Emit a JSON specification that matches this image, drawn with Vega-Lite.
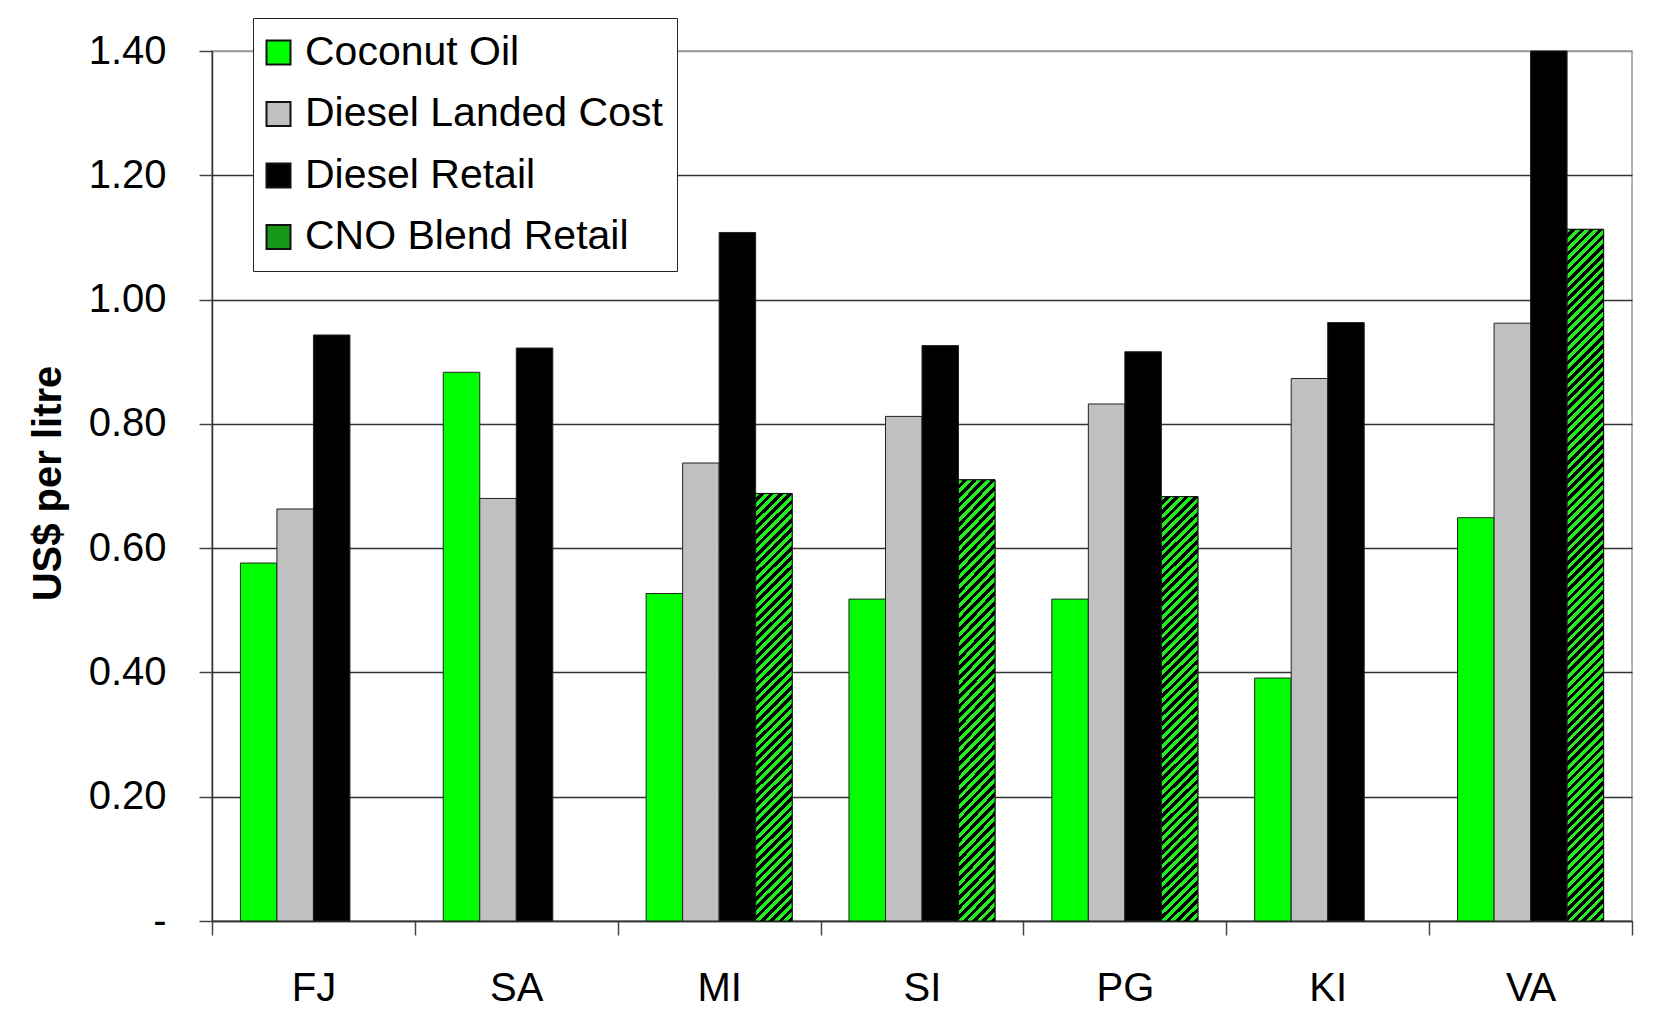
{
 "$schema": "https://vega.github.io/schema/vega-lite/v6.json",
 "width": 1420,
 "height": 870,
 "autosize": {"type": "none"},
 "padding": {"left": 212, "top": 51, "right": 25, "bottom": 107},
 "background": "white",
 "config": {
  "font": "Liberation Sans",
  "view": {"stroke": "#999", "strokeWidth": 1.5}
 },
 "data": {"values": [
  {"country": "FJ", "series": "Coconut Oil", "value": 0.576},
  {"country": "FJ", "series": "Diesel Landed Cost", "value": 0.663},
  {"country": "FJ", "series": "Diesel Retail", "value": 0.943},
  {"country": "SA", "series": "Coconut Oil", "value": 0.883},
  {"country": "SA", "series": "Diesel Landed Cost", "value": 0.680},
  {"country": "SA", "series": "Diesel Retail", "value": 0.922},
  {"country": "MI", "series": "Coconut Oil", "value": 0.527},
  {"country": "MI", "series": "Diesel Landed Cost", "value": 0.737},
  {"country": "MI", "series": "Diesel Retail", "value": 1.108},
  {"country": "MI", "series": "CNO Blend Retail", "value": 0.688},
  {"country": "SI", "series": "Coconut Oil", "value": 0.518},
  {"country": "SI", "series": "Diesel Landed Cost", "value": 0.812},
  {"country": "SI", "series": "Diesel Retail", "value": 0.926},
  {"country": "SI", "series": "CNO Blend Retail", "value": 0.710},
  {"country": "PG", "series": "Coconut Oil", "value": 0.518},
  {"country": "PG", "series": "Diesel Landed Cost", "value": 0.832},
  {"country": "PG", "series": "Diesel Retail", "value": 0.916},
  {"country": "PG", "series": "CNO Blend Retail", "value": 0.683},
  {"country": "KI", "series": "Coconut Oil", "value": 0.391},
  {"country": "KI", "series": "Diesel Landed Cost", "value": 0.873},
  {"country": "KI", "series": "Diesel Retail", "value": 0.963},
  {"country": "VA", "series": "Coconut Oil", "value": 0.649},
  {"country": "VA", "series": "Diesel Landed Cost", "value": 0.962},
  {"country": "VA", "series": "Diesel Retail", "value": 1.40},
  {"country": "VA", "series": "CNO Blend Retail", "value": 1.113}
 ]},
 "encoding": {
  "x": {"field": "country", "type": "nominal", "sort": ["FJ", "SA", "MI", "SI", "PG", "KI", "VA"],
   "scale": {"paddingInner": 0.28, "paddingOuter": 0.14},
   "axis": {"title": null, "labelAngle": 0, "labelFontSize": 40, "labelColor": "#000", "labelBaseline": "alphabetic", "labelPadding": 65,
    "bandPosition": 1.3889, "tickExtra": true, "tickOffset": -28.4, "labelOffset": 28.4,
    "tickSize": 14, "tickColor": "#444", "tickWidth": 1.5, "domainColor": "#333", "domainWidth": 1.5, "grid": false}},
  "xOffset": {"field": "series", "type": "nominal",
   "scale": {"domain": ["Coconut Oil", "Diesel Landed Cost", "Diesel Retail", "CNO Blend Retail"], "paddingInner": 0, "paddingOuter": 0}},
  "y": {"field": "value", "type": "quantitative",
   "scale": {"domain": [0, 1.4], "nice": false},
   "axis": {"values": [0, 0.2, 0.4, 0.6, 0.8, 1, 1.2, 1.4],
    "labelExpr": "datum.value === 0 ? '-\u00a0\u00a0\u00a0\u00a0' : format(datum.value, '.2f')",
    "labelFontSize": 40, "labelColor": "#000", "labelPadding": 33,
    "tickSize": 13, "tickColor": "#444", "tickWidth": 1.5, "domainColor": "#333", "domainWidth": 1.5,
    "grid": true, "gridColor": {"condition": {"test": "datum.value >= 1.39", "value": "#999"}, "value": "#333"}, "gridWidth": 1.5,
    "title": "US$ per litre", "titleFontSize": 40, "titleFontWeight": "bold", "titleColor": "#000",
    "titleAngle": -90, "titleX": -152, "titleY": 432, "titleAlign": "center", "titleBaseline": "alphabetic"}}
 },
 "layer": [
  {
   "mark": {"type": "bar", "stroke": "#222", "strokeWidth": 1},
   "encoding": {
    "color": {"field": "series", "type": "nominal",
     "scale": {"domain": ["Coconut Oil", "Diesel Landed Cost", "Diesel Retail", "CNO Blend Retail"], "range": ["#00ff00", "#c0c0c0", "#000000", "#189818"]},
     "legend": {"title": null, "orient": "none", "legendX": 41, "legendY": -33,
      "symbolType": "square", "symbolSize": 576, "symbolStrokeColor": "#111", "symbolStrokeWidth": 2, "symbolOffset": -9,
      "labelFontSize": 41, "labelColor": "#000", "labelOffset": 6, "labelLimit": 600, "rowPadding": 19.5, "padding": 14,
      "fillColor": "#fff", "strokeColor": "#222"
     }
    }
   }
  },
  {
   "transform": [{"filter": "datum.series === 'CNO Blend Retail' && datum.country !== 'VA'"}],
   "mark": {"type": "bar", "stroke": "#111", "strokeWidth": 1,
    "fill": {"gradient": "linear", "x1": 0, "y1": 0, "x2": 0.0914, "y2": 1.0771, "stops": [
     {"offset":0,"color":"#2e2"},
     {"offset":0.01,"color":"#2e2"},{"offset":0.01,"color":"#000"},{"offset":0.02,"color":"#000"},{"offset":0.02,"color":"#2e2"},
     {"offset":0.03,"color":"#2e2"},{"offset":0.03,"color":"#000"},{"offset":0.04,"color":"#000"},{"offset":0.04,"color":"#2e2"},
     {"offset":0.05,"color":"#2e2"},{"offset":0.05,"color":"#000"},{"offset":0.06,"color":"#000"},{"offset":0.06,"color":"#2e2"},
     {"offset":0.07,"color":"#2e2"},{"offset":0.07,"color":"#000"},{"offset":0.08,"color":"#000"},{"offset":0.08,"color":"#2e2"},
     {"offset":0.09,"color":"#2e2"},{"offset":0.09,"color":"#000"},{"offset":0.10,"color":"#000"},{"offset":0.10,"color":"#2e2"},
     {"offset":0.11,"color":"#2e2"},{"offset":0.11,"color":"#000"},{"offset":0.12,"color":"#000"},{"offset":0.12,"color":"#2e2"},
     {"offset":0.13,"color":"#2e2"},{"offset":0.13,"color":"#000"},{"offset":0.14,"color":"#000"},{"offset":0.14,"color":"#2e2"},
     {"offset":0.15,"color":"#2e2"},{"offset":0.15,"color":"#000"},{"offset":0.16,"color":"#000"},{"offset":0.16,"color":"#2e2"},
     {"offset":0.17,"color":"#2e2"},{"offset":0.17,"color":"#000"},{"offset":0.18,"color":"#000"},{"offset":0.18,"color":"#2e2"},
     {"offset":0.19,"color":"#2e2"},{"offset":0.19,"color":"#000"},{"offset":0.20,"color":"#000"},{"offset":0.20,"color":"#2e2"},
     {"offset":0.21,"color":"#2e2"},{"offset":0.21,"color":"#000"},{"offset":0.22,"color":"#000"},{"offset":0.22,"color":"#2e2"},
     {"offset":0.23,"color":"#2e2"},{"offset":0.23,"color":"#000"},{"offset":0.24,"color":"#000"},{"offset":0.24,"color":"#2e2"},
     {"offset":0.25,"color":"#2e2"},{"offset":0.25,"color":"#000"},{"offset":0.26,"color":"#000"},{"offset":0.26,"color":"#2e2"},
     {"offset":0.27,"color":"#2e2"},{"offset":0.27,"color":"#000"},{"offset":0.28,"color":"#000"},{"offset":0.28,"color":"#2e2"},
     {"offset":0.29,"color":"#2e2"},{"offset":0.29,"color":"#000"},{"offset":0.30,"color":"#000"},{"offset":0.30,"color":"#2e2"},
     {"offset":0.31,"color":"#2e2"},{"offset":0.31,"color":"#000"},{"offset":0.32,"color":"#000"},{"offset":0.32,"color":"#2e2"},
     {"offset":0.33,"color":"#2e2"},{"offset":0.33,"color":"#000"},{"offset":0.34,"color":"#000"},{"offset":0.34,"color":"#2e2"},
     {"offset":0.35,"color":"#2e2"},{"offset":0.35,"color":"#000"},{"offset":0.36,"color":"#000"},{"offset":0.36,"color":"#2e2"},
     {"offset":0.37,"color":"#2e2"},{"offset":0.37,"color":"#000"},{"offset":0.38,"color":"#000"},{"offset":0.38,"color":"#2e2"},
     {"offset":0.39,"color":"#2e2"},{"offset":0.39,"color":"#000"},{"offset":0.40,"color":"#000"},{"offset":0.40,"color":"#2e2"},
     {"offset":0.41,"color":"#2e2"},{"offset":0.41,"color":"#000"},{"offset":0.42,"color":"#000"},{"offset":0.42,"color":"#2e2"},
     {"offset":0.43,"color":"#2e2"},{"offset":0.43,"color":"#000"},{"offset":0.44,"color":"#000"},{"offset":0.44,"color":"#2e2"},
     {"offset":0.45,"color":"#2e2"},{"offset":0.45,"color":"#000"},{"offset":0.46,"color":"#000"},{"offset":0.46,"color":"#2e2"},
     {"offset":0.47,"color":"#2e2"},{"offset":0.47,"color":"#000"},{"offset":0.48,"color":"#000"},{"offset":0.48,"color":"#2e2"},
     {"offset":0.49,"color":"#2e2"},{"offset":0.49,"color":"#000"},{"offset":0.50,"color":"#000"},{"offset":0.50,"color":"#2e2"},
     {"offset":0.51,"color":"#2e2"},{"offset":0.51,"color":"#000"},{"offset":0.52,"color":"#000"},{"offset":0.52,"color":"#2e2"},
     {"offset":0.53,"color":"#2e2"},{"offset":0.53,"color":"#000"},{"offset":0.54,"color":"#000"},{"offset":0.54,"color":"#2e2"},
     {"offset":0.55,"color":"#2e2"},{"offset":0.55,"color":"#000"},{"offset":0.56,"color":"#000"},{"offset":0.56,"color":"#2e2"},
     {"offset":0.57,"color":"#2e2"},{"offset":0.57,"color":"#000"},{"offset":0.58,"color":"#000"},{"offset":0.58,"color":"#2e2"},
     {"offset":0.59,"color":"#2e2"},{"offset":0.59,"color":"#000"},{"offset":0.60,"color":"#000"},{"offset":0.60,"color":"#2e2"},
     {"offset":0.61,"color":"#2e2"},{"offset":0.61,"color":"#000"},{"offset":0.62,"color":"#000"},{"offset":0.62,"color":"#2e2"},
     {"offset":0.63,"color":"#2e2"},{"offset":0.63,"color":"#000"},{"offset":0.64,"color":"#000"},{"offset":0.64,"color":"#2e2"},
     {"offset":0.65,"color":"#2e2"},{"offset":0.65,"color":"#000"},{"offset":0.66,"color":"#000"},{"offset":0.66,"color":"#2e2"},
     {"offset":0.67,"color":"#2e2"},{"offset":0.67,"color":"#000"},{"offset":0.68,"color":"#000"},{"offset":0.68,"color":"#2e2"},
     {"offset":0.69,"color":"#2e2"},{"offset":0.69,"color":"#000"},{"offset":0.70,"color":"#000"},{"offset":0.70,"color":"#2e2"},
     {"offset":0.71,"color":"#2e2"},{"offset":0.71,"color":"#000"},{"offset":0.72,"color":"#000"},{"offset":0.72,"color":"#2e2"},
     {"offset":0.73,"color":"#2e2"},{"offset":0.73,"color":"#000"},{"offset":0.74,"color":"#000"},{"offset":0.74,"color":"#2e2"},
     {"offset":0.75,"color":"#2e2"},{"offset":0.75,"color":"#000"},{"offset":0.76,"color":"#000"},{"offset":0.76,"color":"#2e2"},
     {"offset":0.77,"color":"#2e2"},{"offset":0.77,"color":"#000"},{"offset":0.78,"color":"#000"},{"offset":0.78,"color":"#2e2"},
     {"offset":0.79,"color":"#2e2"},{"offset":0.79,"color":"#000"},{"offset":0.80,"color":"#000"},{"offset":0.80,"color":"#2e2"},
     {"offset":0.81,"color":"#2e2"},{"offset":0.81,"color":"#000"},{"offset":0.82,"color":"#000"},{"offset":0.82,"color":"#2e2"},
     {"offset":0.83,"color":"#2e2"},{"offset":0.83,"color":"#000"},{"offset":0.84,"color":"#000"},{"offset":0.84,"color":"#2e2"},
     {"offset":0.85,"color":"#2e2"},{"offset":0.85,"color":"#000"},{"offset":0.86,"color":"#000"},{"offset":0.86,"color":"#2e2"},
     {"offset":0.87,"color":"#2e2"},{"offset":0.87,"color":"#000"},{"offset":0.88,"color":"#000"},{"offset":0.88,"color":"#2e2"},
     {"offset":0.89,"color":"#2e2"},{"offset":0.89,"color":"#000"},{"offset":0.90,"color":"#000"},{"offset":0.90,"color":"#2e2"},
     {"offset":0.91,"color":"#2e2"},{"offset":0.91,"color":"#000"},{"offset":0.92,"color":"#000"},{"offset":0.92,"color":"#2e2"},
     {"offset":0.93,"color":"#2e2"},{"offset":0.93,"color":"#000"},{"offset":0.94,"color":"#000"},{"offset":0.94,"color":"#2e2"},
     {"offset":0.95,"color":"#2e2"},{"offset":0.95,"color":"#000"},{"offset":0.96,"color":"#000"},{"offset":0.96,"color":"#2e2"},
     {"offset":0.97,"color":"#2e2"},{"offset":0.97,"color":"#000"},{"offset":0.98,"color":"#000"},{"offset":0.98,"color":"#2e2"},
     {"offset":0.99,"color":"#2e2"},{"offset":0.99,"color":"#000"},{"offset":1,"color":"#000"}
    ]}}
  },
  {
   "transform": [{"filter": "datum.series === 'CNO Blend Retail' && datum.country === 'VA'"}],
   "mark": {"type": "bar", "stroke": "#111", "strokeWidth": 1,
    "fill": {"gradient": "linear", "x1": 0, "y1": 0, "x2": 0.0554, "y2": 1.0499, "stops": [
     {"offset":0,"color":"#2e2"},
     {"offset":0.00625,"color":"#2e2"},{"offset":0.00625,"color":"#000"},{"offset":0.0125,"color":"#000"},{"offset":0.0125,"color":"#2e2"},
     {"offset":0.01875,"color":"#2e2"},{"offset":0.01875,"color":"#000"},{"offset":0.025,"color":"#000"},{"offset":0.025,"color":"#2e2"},
     {"offset":0.03125,"color":"#2e2"},{"offset":0.03125,"color":"#000"},{"offset":0.0375,"color":"#000"},{"offset":0.0375,"color":"#2e2"},
     {"offset":0.04375,"color":"#2e2"},{"offset":0.04375,"color":"#000"},{"offset":0.05,"color":"#000"},{"offset":0.05,"color":"#2e2"},
     {"offset":0.05625,"color":"#2e2"},{"offset":0.05625,"color":"#000"},{"offset":0.0625,"color":"#000"},{"offset":0.0625,"color":"#2e2"},
     {"offset":0.06875,"color":"#2e2"},{"offset":0.06875,"color":"#000"},{"offset":0.075,"color":"#000"},{"offset":0.075,"color":"#2e2"},
     {"offset":0.08125,"color":"#2e2"},{"offset":0.08125,"color":"#000"},{"offset":0.0875,"color":"#000"},{"offset":0.0875,"color":"#2e2"},
     {"offset":0.09375,"color":"#2e2"},{"offset":0.09375,"color":"#000"},{"offset":0.1,"color":"#000"},{"offset":0.1,"color":"#2e2"},
     {"offset":0.10625,"color":"#2e2"},{"offset":0.10625,"color":"#000"},{"offset":0.1125,"color":"#000"},{"offset":0.1125,"color":"#2e2"},
     {"offset":0.11875,"color":"#2e2"},{"offset":0.11875,"color":"#000"},{"offset":0.125,"color":"#000"},{"offset":0.125,"color":"#2e2"},
     {"offset":0.13125,"color":"#2e2"},{"offset":0.13125,"color":"#000"},{"offset":0.1375,"color":"#000"},{"offset":0.1375,"color":"#2e2"},
     {"offset":0.14375,"color":"#2e2"},{"offset":0.14375,"color":"#000"},{"offset":0.15,"color":"#000"},{"offset":0.15,"color":"#2e2"},
     {"offset":0.15625,"color":"#2e2"},{"offset":0.15625,"color":"#000"},{"offset":0.1625,"color":"#000"},{"offset":0.1625,"color":"#2e2"},
     {"offset":0.16875,"color":"#2e2"},{"offset":0.16875,"color":"#000"},{"offset":0.175,"color":"#000"},{"offset":0.175,"color":"#2e2"},
     {"offset":0.18125,"color":"#2e2"},{"offset":0.18125,"color":"#000"},{"offset":0.1875,"color":"#000"},{"offset":0.1875,"color":"#2e2"},
     {"offset":0.19375,"color":"#2e2"},{"offset":0.19375,"color":"#000"},{"offset":0.2,"color":"#000"},{"offset":0.2,"color":"#2e2"},
     {"offset":0.20625,"color":"#2e2"},{"offset":0.20625,"color":"#000"},{"offset":0.2125,"color":"#000"},{"offset":0.2125,"color":"#2e2"},
     {"offset":0.21875,"color":"#2e2"},{"offset":0.21875,"color":"#000"},{"offset":0.225,"color":"#000"},{"offset":0.225,"color":"#2e2"},
     {"offset":0.23125,"color":"#2e2"},{"offset":0.23125,"color":"#000"},{"offset":0.2375,"color":"#000"},{"offset":0.2375,"color":"#2e2"},
     {"offset":0.24375,"color":"#2e2"},{"offset":0.24375,"color":"#000"},{"offset":0.25,"color":"#000"},{"offset":0.25,"color":"#2e2"},
     {"offset":0.25625,"color":"#2e2"},{"offset":0.25625,"color":"#000"},{"offset":0.2625,"color":"#000"},{"offset":0.2625,"color":"#2e2"},
     {"offset":0.26875,"color":"#2e2"},{"offset":0.26875,"color":"#000"},{"offset":0.275,"color":"#000"},{"offset":0.275,"color":"#2e2"},
     {"offset":0.28125,"color":"#2e2"},{"offset":0.28125,"color":"#000"},{"offset":0.2875,"color":"#000"},{"offset":0.2875,"color":"#2e2"},
     {"offset":0.29375,"color":"#2e2"},{"offset":0.29375,"color":"#000"},{"offset":0.3,"color":"#000"},{"offset":0.3,"color":"#2e2"},
     {"offset":0.30625,"color":"#2e2"},{"offset":0.30625,"color":"#000"},{"offset":0.3125,"color":"#000"},{"offset":0.3125,"color":"#2e2"},
     {"offset":0.31875,"color":"#2e2"},{"offset":0.31875,"color":"#000"},{"offset":0.325,"color":"#000"},{"offset":0.325,"color":"#2e2"},
     {"offset":0.33125,"color":"#2e2"},{"offset":0.33125,"color":"#000"},{"offset":0.3375,"color":"#000"},{"offset":0.3375,"color":"#2e2"},
     {"offset":0.34375,"color":"#2e2"},{"offset":0.34375,"color":"#000"},{"offset":0.35,"color":"#000"},{"offset":0.35,"color":"#2e2"},
     {"offset":0.35625,"color":"#2e2"},{"offset":0.35625,"color":"#000"},{"offset":0.3625,"color":"#000"},{"offset":0.3625,"color":"#2e2"},
     {"offset":0.36875,"color":"#2e2"},{"offset":0.36875,"color":"#000"},{"offset":0.375,"color":"#000"},{"offset":0.375,"color":"#2e2"},
     {"offset":0.38125,"color":"#2e2"},{"offset":0.38125,"color":"#000"},{"offset":0.3875,"color":"#000"},{"offset":0.3875,"color":"#2e2"},
     {"offset":0.39375,"color":"#2e2"},{"offset":0.39375,"color":"#000"},{"offset":0.4,"color":"#000"},{"offset":0.4,"color":"#2e2"},
     {"offset":0.40625,"color":"#2e2"},{"offset":0.40625,"color":"#000"},{"offset":0.4125,"color":"#000"},{"offset":0.4125,"color":"#2e2"},
     {"offset":0.41875,"color":"#2e2"},{"offset":0.41875,"color":"#000"},{"offset":0.425,"color":"#000"},{"offset":0.425,"color":"#2e2"},
     {"offset":0.43125,"color":"#2e2"},{"offset":0.43125,"color":"#000"},{"offset":0.4375,"color":"#000"},{"offset":0.4375,"color":"#2e2"},
     {"offset":0.44375,"color":"#2e2"},{"offset":0.44375,"color":"#000"},{"offset":0.45,"color":"#000"},{"offset":0.45,"color":"#2e2"},
     {"offset":0.45625,"color":"#2e2"},{"offset":0.45625,"color":"#000"},{"offset":0.4625,"color":"#000"},{"offset":0.4625,"color":"#2e2"},
     {"offset":0.46875,"color":"#2e2"},{"offset":0.46875,"color":"#000"},{"offset":0.475,"color":"#000"},{"offset":0.475,"color":"#2e2"},
     {"offset":0.48125,"color":"#2e2"},{"offset":0.48125,"color":"#000"},{"offset":0.4875,"color":"#000"},{"offset":0.4875,"color":"#2e2"},
     {"offset":0.49375,"color":"#2e2"},{"offset":0.49375,"color":"#000"},{"offset":0.5,"color":"#000"},{"offset":0.5,"color":"#2e2"},
     {"offset":0.50625,"color":"#2e2"},{"offset":0.50625,"color":"#000"},{"offset":0.5125,"color":"#000"},{"offset":0.5125,"color":"#2e2"},
     {"offset":0.51875,"color":"#2e2"},{"offset":0.51875,"color":"#000"},{"offset":0.525,"color":"#000"},{"offset":0.525,"color":"#2e2"},
     {"offset":0.53125,"color":"#2e2"},{"offset":0.53125,"color":"#000"},{"offset":0.5375,"color":"#000"},{"offset":0.5375,"color":"#2e2"},
     {"offset":0.54375,"color":"#2e2"},{"offset":0.54375,"color":"#000"},{"offset":0.55,"color":"#000"},{"offset":0.55,"color":"#2e2"},
     {"offset":0.55625,"color":"#2e2"},{"offset":0.55625,"color":"#000"},{"offset":0.5625,"color":"#000"},{"offset":0.5625,"color":"#2e2"},
     {"offset":0.56875,"color":"#2e2"},{"offset":0.56875,"color":"#000"},{"offset":0.575,"color":"#000"},{"offset":0.575,"color":"#2e2"},
     {"offset":0.58125,"color":"#2e2"},{"offset":0.58125,"color":"#000"},{"offset":0.5875,"color":"#000"},{"offset":0.5875,"color":"#2e2"},
     {"offset":0.59375,"color":"#2e2"},{"offset":0.59375,"color":"#000"},{"offset":0.6,"color":"#000"},{"offset":0.6,"color":"#2e2"},
     {"offset":0.60625,"color":"#2e2"},{"offset":0.60625,"color":"#000"},{"offset":0.6125,"color":"#000"},{"offset":0.6125,"color":"#2e2"},
     {"offset":0.61875,"color":"#2e2"},{"offset":0.61875,"color":"#000"},{"offset":0.625,"color":"#000"},{"offset":0.625,"color":"#2e2"},
     {"offset":0.63125,"color":"#2e2"},{"offset":0.63125,"color":"#000"},{"offset":0.6375,"color":"#000"},{"offset":0.6375,"color":"#2e2"},
     {"offset":0.64375,"color":"#2e2"},{"offset":0.64375,"color":"#000"},{"offset":0.65,"color":"#000"},{"offset":0.65,"color":"#2e2"},
     {"offset":0.65625,"color":"#2e2"},{"offset":0.65625,"color":"#000"},{"offset":0.6625,"color":"#000"},{"offset":0.6625,"color":"#2e2"},
     {"offset":0.66875,"color":"#2e2"},{"offset":0.66875,"color":"#000"},{"offset":0.675,"color":"#000"},{"offset":0.675,"color":"#2e2"},
     {"offset":0.68125,"color":"#2e2"},{"offset":0.68125,"color":"#000"},{"offset":0.6875,"color":"#000"},{"offset":0.6875,"color":"#2e2"},
     {"offset":0.69375,"color":"#2e2"},{"offset":0.69375,"color":"#000"},{"offset":0.7,"color":"#000"},{"offset":0.7,"color":"#2e2"},
     {"offset":0.70625,"color":"#2e2"},{"offset":0.70625,"color":"#000"},{"offset":0.7125,"color":"#000"},{"offset":0.7125,"color":"#2e2"},
     {"offset":0.71875,"color":"#2e2"},{"offset":0.71875,"color":"#000"},{"offset":0.725,"color":"#000"},{"offset":0.725,"color":"#2e2"},
     {"offset":0.73125,"color":"#2e2"},{"offset":0.73125,"color":"#000"},{"offset":0.7375,"color":"#000"},{"offset":0.7375,"color":"#2e2"},
     {"offset":0.74375,"color":"#2e2"},{"offset":0.74375,"color":"#000"},{"offset":0.75,"color":"#000"},{"offset":0.75,"color":"#2e2"},
     {"offset":0.75625,"color":"#2e2"},{"offset":0.75625,"color":"#000"},{"offset":0.7625,"color":"#000"},{"offset":0.7625,"color":"#2e2"},
     {"offset":0.76875,"color":"#2e2"},{"offset":0.76875,"color":"#000"},{"offset":0.775,"color":"#000"},{"offset":0.775,"color":"#2e2"},
     {"offset":0.78125,"color":"#2e2"},{"offset":0.78125,"color":"#000"},{"offset":0.7875,"color":"#000"},{"offset":0.7875,"color":"#2e2"},
     {"offset":0.79375,"color":"#2e2"},{"offset":0.79375,"color":"#000"},{"offset":0.8,"color":"#000"},{"offset":0.8,"color":"#2e2"},
     {"offset":0.80625,"color":"#2e2"},{"offset":0.80625,"color":"#000"},{"offset":0.8125,"color":"#000"},{"offset":0.8125,"color":"#2e2"},
     {"offset":0.81875,"color":"#2e2"},{"offset":0.81875,"color":"#000"},{"offset":0.825,"color":"#000"},{"offset":0.825,"color":"#2e2"},
     {"offset":0.83125,"color":"#2e2"},{"offset":0.83125,"color":"#000"},{"offset":0.8375,"color":"#000"},{"offset":0.8375,"color":"#2e2"},
     {"offset":0.84375,"color":"#2e2"},{"offset":0.84375,"color":"#000"},{"offset":0.85,"color":"#000"},{"offset":0.85,"color":"#2e2"},
     {"offset":0.85625,"color":"#2e2"},{"offset":0.85625,"color":"#000"},{"offset":0.8625,"color":"#000"},{"offset":0.8625,"color":"#2e2"},
     {"offset":0.86875,"color":"#2e2"},{"offset":0.86875,"color":"#000"},{"offset":0.875,"color":"#000"},{"offset":0.875,"color":"#2e2"},
     {"offset":0.88125,"color":"#2e2"},{"offset":0.88125,"color":"#000"},{"offset":0.8875,"color":"#000"},{"offset":0.8875,"color":"#2e2"},
     {"offset":0.89375,"color":"#2e2"},{"offset":0.89375,"color":"#000"},{"offset":0.9,"color":"#000"},{"offset":0.9,"color":"#2e2"},
     {"offset":0.90625,"color":"#2e2"},{"offset":0.90625,"color":"#000"},{"offset":0.9125,"color":"#000"},{"offset":0.9125,"color":"#2e2"},
     {"offset":0.91875,"color":"#2e2"},{"offset":0.91875,"color":"#000"},{"offset":0.925,"color":"#000"},{"offset":0.925,"color":"#2e2"},
     {"offset":0.93125,"color":"#2e2"},{"offset":0.93125,"color":"#000"},{"offset":0.9375,"color":"#000"},{"offset":0.9375,"color":"#2e2"},
     {"offset":0.94375,"color":"#2e2"},{"offset":0.94375,"color":"#000"},{"offset":0.95,"color":"#000"},{"offset":0.95,"color":"#2e2"},
     {"offset":0.95625,"color":"#2e2"},{"offset":0.95625,"color":"#000"},{"offset":0.9625,"color":"#000"},{"offset":0.9625,"color":"#2e2"},
     {"offset":0.96875,"color":"#2e2"},{"offset":0.96875,"color":"#000"},{"offset":0.975,"color":"#000"},{"offset":0.975,"color":"#2e2"},
     {"offset":0.98125,"color":"#2e2"},{"offset":0.98125,"color":"#000"},{"offset":0.9875,"color":"#000"},{"offset":0.9875,"color":"#2e2"},
     {"offset":0.99375,"color":"#2e2"},{"offset":0.99375,"color":"#000"},{"offset":1,"color":"#000"}
    ]}}
  }
 ]
}
